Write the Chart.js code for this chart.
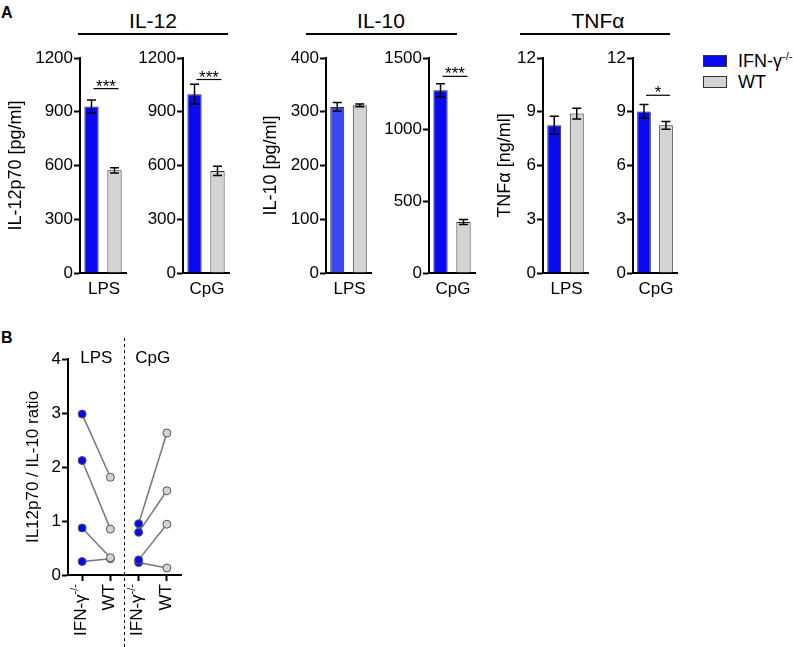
<!DOCTYPE html>
<html>
<head>
<meta charset="utf-8">
<script src="https://cdn.jsdelivr.net/npm/chart.js@4.4.0/dist/chart.umd.min.js"></script>
<style>
  body { margin: 0; background: #fff; font-family: "Liberation Sans", Arial, sans-serif; }
  #page { position: relative; width: 793px; height: 647px; overflow: hidden; }
  #page canvas { position: absolute; }
  .txt { position: absolute; line-height: 1; color: #000; white-space: nowrap; }
  .ctr { transform: translate(-50%, -50%); }
  .rule { position: absolute; height: 2px; background: #000; }
  .box { position: absolute; width: 22px; height: 10px; border: 1px solid #333; }
  sup { font-size: 11px; vertical-align: 0; position: relative; top: -7px; }
</style>
</head>
<body>
<div id="page">
  <div class="txt" style="left:1px;top:5px;font-size:16px;font-weight:bold;">A</div>
  <div class="txt" style="left:1px;top:330px;font-size:16px;font-weight:bold;">B</div>

  <div class="txt ctr" style="left:153px;top:20px;font-size:21px;">IL-12</div>
  <div class="rule" style="left:78px;top:33px;width:150px;"></div>
  <div class="txt ctr" style="left:381px;top:20px;font-size:21px;">IL-10</div>
  <div class="rule" style="left:306px;top:33px;width:151px;"></div>
  <div class="txt ctr" style="left:598px;top:20px;font-size:21px;">TNFα</div>
  <div class="rule" style="left:520px;top:33px;width:150px;"></div>

  <!-- legend -->
  <div class="box" style="left:703px;top:55px;background:#0a0af2;"></div>
  <div class="txt" style="left:738px;top:52px;font-size:18px;">IFN-γ<sup>-/-</sup></div>
  <div class="box" style="left:703px;top:76px;background:#d4d4d4;"></div>
  <div class="txt" style="left:738px;top:73px;font-size:18px;">WT</div>
</div>

<script>
  // ---- data (panel A: mean and error) ----
  var genotypes = ['IFN-γ-/-', 'WT'];
  var stimuli   = ['LPS', 'CpG'];

  var il12Lps    = [930, 573];
  var il12LpsErr = [35, 15];
  var il12Cpg    = [998, 570];
  var il12CpgErr = [55, 26];

  var il10Lps    = [309, 312];
  var il10LpsErr = [8, 2.5];
  var il10Cpg    = [1275, 356];
  var il10CpgErr = [45, 17];

  var tnfLps    = [8.25, 8.9];
  var tnfLpsErr = [0.5, 0.3];
  var tnfCpg    = [9.02, 8.24];
  var tnfCpgErr = [0.38, 0.22];

  // ---- data (panel B: paired ratios, one entry per mouse) ----
  var ratioCats   = ['IFN', 'WT', 'IFN', 'WT'];
  var ratioLpsIfn = [2.98, 2.12, 0.87, 0.25];
  var ratioLpsWt  = [1.81, 0.85, 0.32, 0.30];
  var ratioCpgIfn = [0.95, 0.79, 0.28, 0.23];
  var ratioCpgWt  = [2.63, 1.56, 0.94, 0.13];

  var BLUE = '#0a0af2', BLUE_LIGHT = '#3a48f0', GREY = '#d4d4d4';
  var FONT = '"Liberation Sans", Arial, sans-serif';

  Chart.defaults.font.family = FONT;
  Chart.defaults.color = '#000';

  var page = document.getElementById('page');

  function addCanvas(left, top, w, h) {
    var c = document.createElement('canvas');
    c.width = w; c.height = h;
    c.style.left = left + 'px';
    c.style.top = top + 'px';
    c.style.width = w + 'px';
    c.style.height = h + 'px';
    page.appendChild(c);
    return c;
  }

  //  plain tick numbers, no thousands separator
  function plainTick(v) { return String(v); }

  //  error bars, significance bar, x label and y title for the small bar charts
  var barExtras = {
    id: 'barExtras',
    afterDatasetsDraw: function(chart) {
      var o = chart.options.plugins.barExtras,
          ctx = chart.ctx,
          ys = chart.scales.y,
          area = chart.chartArea,
          meta = chart.getDatasetMeta(0);

      ctx.save();
      ctx.strokeStyle = '#000';
      ctx.lineWidth = 1.5;
      meta.data.forEach(function(bar, i) {
        var v = o.values[i], e = o.errors[i],
            y1 = ys.getPixelForValue(v + e),
            y2 = ys.getPixelForValue(v - e);
        ctx.beginPath();
        ctx.moveTo(bar.x, y1); ctx.lineTo(bar.x, y2);
        ctx.moveTo(bar.x - 4.5, y1); ctx.lineTo(bar.x + 4.5, y1);
        ctx.moveTo(bar.x - 4.5, y2); ctx.lineTo(bar.x + 4.5, y2);
        ctx.stroke();
      });

      if (o.sig) {
        var sy = ys.getPixelForValue(o.sig.at),
            x1 = meta.data[0].x + 2,
            x2 = meta.data[1].x + 4;
        ctx.lineWidth = 1.2;
        ctx.beginPath();
        ctx.moveTo(x1, sy); ctx.lineTo(x2, sy);
        ctx.stroke();
        ctx.fillStyle = '#000';
        ctx.font = '17px ' + FONT;
        ctx.textAlign = 'center';
        ctx.textBaseline = 'alphabetic';
        ctx.fillText(o.sig.text, (x1 + x2) / 2, sy + 3);
      }

      ctx.fillStyle = '#000';
      ctx.font = '17px ' + FONT;
      ctx.textAlign = 'center';
      ctx.textBaseline = 'middle';
      ctx.fillText(o.xLabel, (area.left + area.right) / 2 + 1, area.bottom + 16);

      if (o.yTitle) {
        ctx.translate(area.left - o.yTitleOffset, (area.top + area.bottom) / 2);
        ctx.rotate(-Math.PI / 2);
        ctx.font = '18px ' + FONT;
        ctx.fillText(o.yTitle, 0, 0);
      }
      ctx.restore();
    }
  };

  //  one small bar chart, placed so that its y axis lands at axisX
  function barChart(p) {
    var yw = 80, padTop = 12, padRight = 4, xh = 32,
        top = 58, bottom = 273;
    var cv = addCanvas(p.axisX - yw, top - padTop,
                       yw + (p.rightX - p.axisX) + padRight,
                       padTop + (bottom - top) + xh);

    return new Chart(cv, {
      type: 'bar',
      data: {
        labels: genotypes,
        datasets: [{
          data: p.values,
          backgroundColor: p.colors,
          borderColor: '#2a2a2a',
          borderWidth: 1,
          barPercentage: 0.62,
          categoryPercentage: 1
        }]
      },
      options: {
        responsive: false,
        animation: false,
        devicePixelRatio: 1,
        layout: { padding: { top: padTop, right: padRight, left: 0, bottom: 0 } },
        plugins: {
          legend: { display: false },
          tooltip: { enabled: false },
          barExtras: {
            values: p.values, errors: p.errors, sig: p.sig,
            xLabel: p.xLabel, yTitle: p.yTitle, yTitleOffset: p.yTitleOffset
          }
        },
        scales: {
          x: {
            ticks: { display: false },
            grid: { display: false },
            border: { display: true, color: '#000', width: 2 },
            afterFit: function(s) { s.height = xh; }
          },
          y: {
            min: 0, max: p.max,
            ticks: { stepSize: p.step, padding: 1, font: { size: 17 }, color: '#000', callback: plainTick },
            grid: { drawOnChartArea: false, drawTicks: true, tickLength: 6, tickWidth: 2, tickColor: '#000' },
            border: { display: true, color: '#000', width: 2 },
            afterFit: function(s) { s.width = yw; }
          }
        }
      },
      plugins: [barExtras]
    });
  }

  barChart({ axisX: 80, rightX: 126, max: 1200, step: 300, values: il12Lps, errors: il12LpsErr,
             colors: [BLUE, GREY], xLabel: stimuli[0], yTitle: 'IL-12p70 [pg/ml]', yTitleOffset: 64,
             sig: { at: 1029, text: '***' } });
  barChart({ axisX: 183, rightX: 229, max: 1200, step: 300, values: il12Cpg, errors: il12CpgErr,
             colors: [BLUE, GREY], xLabel: stimuli[1],
             sig: { at: 1080, text: '***' } });
  barChart({ axisX: 326, rightX: 371, max: 400, step: 100, values: il10Lps, errors: il10LpsErr,
             colors: [BLUE_LIGHT, GREY], xLabel: stimuli[0], yTitle: 'IL-10 [pg/ml]', yTitleOffset: 55 });
  barChart({ axisX: 429, rightX: 475, max: 1500, step: 500, values: il10Cpg, errors: il10CpgErr,
             colors: [BLUE, GREY], xLabel: stimuli[1],
             sig: { at: 1372, text: '***' } });
  barChart({ axisX: 543, rightX: 588, max: 12, step: 3, values: tnfLps, errors: tnfLpsErr,
             colors: [BLUE, GREY], xLabel: stimuli[0], yTitle: 'TNFα [ng/ml]', yTitleOffset: 38 });
  barChart({ axisX: 633, rightX: 677, max: 12, step: 3, values: tnfCpg, errors: tnfCpgErr,
             colors: [BLUE, GREY], xLabel: stimuli[1],
             sig: { at: 9.92, text: '*' } });


  ///////////////////////////////
  //  Panel B: paired ratios   //
  ///////////////////////////////
  var pairSets = [];
  for (var i = 0; i < ratioLpsIfn.length; i++) {
    pairSets.push({ data: [ratioLpsIfn[i], ratioLpsWt[i], null, null] });
    pairSets.push({ data: [null, null, ratioCpgIfn[i], ratioCpgWt[i]] });
  }
  pairSets.forEach(function(ds) {
    ds.borderColor = '#777';
    ds.borderWidth = 1.5;
    ds.pointRadius = 4;
    ds.pointBorderWidth = 1;
    ds.pointBorderColor = '#555';
    ds.pointBackgroundColor = [BLUE, GREY, BLUE, GREY];
    ds.spanGaps = false;
  });

  var ratioExtras = {
    id: 'ratioExtras',
    afterDraw: function(chart) {
      var ctx = chart.ctx,
          xs = chart.scales.x,
          area = chart.chartArea,
          px = function(k) { return xs.getPixelForValue(k); };

      ctx.save();
      //  dashed separator
      var mx = (px(1) + px(2)) / 2;
      ctx.strokeStyle = '#000';
      ctx.lineWidth = 1;
      ctx.setLineDash([3, 3]);
      ctx.beginPath();
      ctx.moveTo(mx, 8); ctx.lineTo(mx, chart.height);
      ctx.stroke();
      ctx.setLineDash([]);

      ctx.fillStyle = '#000';
      ctx.font = '17px ' + FONT;
      ctx.textAlign = 'center';
      ctx.textBaseline = 'middle';
      ctx.fillText(stimuli[0], (px(0) + px(1)) / 2, area.top - 1);
      ctx.fillText(stimuli[1], (px(2) + px(3)) / 2, area.top - 1);

      //  rotated category labels
      ratioCats.forEach(function(c, k) {
        ctx.save();
        ctx.translate(px(k) - 1, area.bottom + 9);
        ctx.rotate(-Math.PI / 2);
        ctx.textAlign = 'right';
        ctx.textBaseline = 'middle';
        if (c === 'IFN') {
          ctx.font = '11px ' + FONT;
          var sup = '-/-';
          ctx.fillText(sup, 0, -6);
          var w = ctx.measureText(sup).width;
          ctx.font = '17px ' + FONT;
          ctx.fillText('IFN-γ', -w, 0);
        } else {
          ctx.font = '17px ' + FONT;
          ctx.fillText('WT', 0, 0);
        }
        ctx.restore();
      });

      ctx.translate(area.left - 35, (area.top + area.bottom) / 2);
      ctx.rotate(-Math.PI / 2);
      ctx.font = '17px ' + FONT;
      ctx.fillText('IL12p70 / IL-10 ratio', 0, 0);
      ctx.restore();
    }
  };

  var bTop = 330, bPadTop = 29, bYw = 68, bXh = 72;
  var bCanvas = addCanvas(0, bTop, 200, bPadTop + (575 - 359) + bXh);

  new Chart(bCanvas, {
    type: 'line',
    data: { labels: ratioCats, datasets: pairSets },
    options: {
      responsive: false,
      animation: false,
      devicePixelRatio: 1,
      layout: { padding: { top: bPadTop, right: 200 - bYw - 113, left: 0, bottom: 0 } },
      plugins: { legend: { display: false }, tooltip: { enabled: false } },
      scales: {
        x: {
          offset: true,
          ticks: { display: false },
          grid: { drawOnChartArea: false, drawTicks: true, tickLength: 6, tickWidth: 2, tickColor: '#000', offset: false },
          border: { display: true, color: '#000', width: 2 },
          afterFit: function(s) { s.height = bXh; }
        },
        y: {
          min: 0, max: 4,
          ticks: { stepSize: 1, padding: 1, font: { size: 17 }, color: '#000' },
          grid: { drawOnChartArea: false, drawTicks: true, tickLength: 6, tickWidth: 2, tickColor: '#000' },
          border: { display: true, color: '#000', width: 2 },
          afterFit: function(s) { s.width = bYw; }
        }
      }
    },
    plugins: [ratioExtras]
  });
</script>
</body>
</html>
